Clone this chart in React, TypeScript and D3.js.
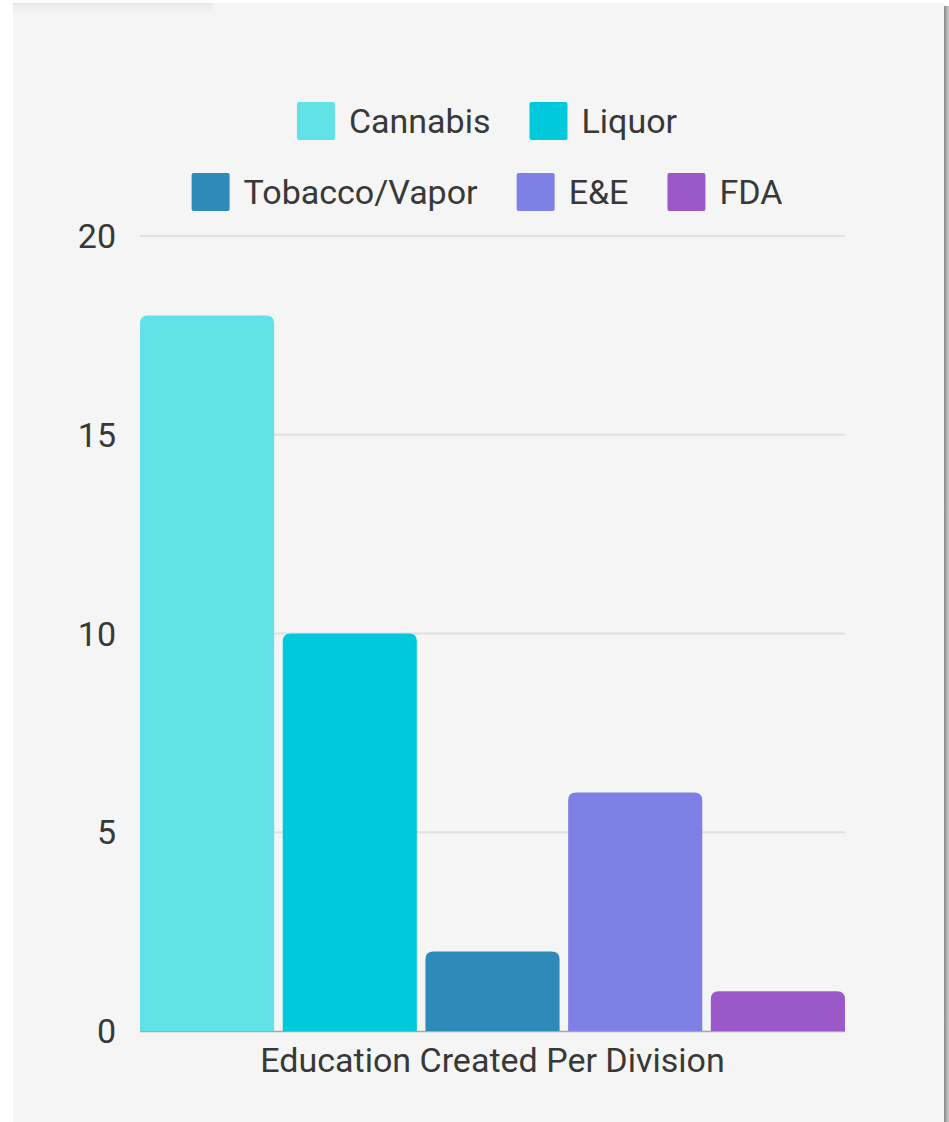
import React, { useMemo } from "react";
import * as d3 from "d3";

const categories = ["Cannabis", "Liquor", "Tobacco/Vapor", "E&E", "FDA"];
const values = [18, 10, 2, 6, 1];
const colors = ["#60e2e6", "#00c9dc", "#2e8bb8", "#7f80e5", "#9b58c9"];
const yTicks = [0, 5, 10, 15, 20];
const axisTitle = "Education Created Per Division";

const W = 949;
const H = 1122;
const FONT = "Roboto, 'Open Sans', sans-serif";
const FS = 34;
const TXT = "#383838";

function measure(text: string, size: number) {
  const c = document.createElement("canvas").getContext("2d")!;
  c.font = `${size}px Roboto`;
  return c.measureText(text).width;
}

export default function App() {
  const x = d3.scaleBand<string>().domain(categories).range([140, 845]).paddingInner(0.06).paddingOuter(0);
  const y = d3.scaleLinear().domain([0, 20]).range([1031, 236]);
  const r = 8;

  const legendRows = useMemo(() => {
    const sw = 38, gapT = 14, gapI = 39, maxW = 620;
    const items = categories.map((c, i) => ({ label: c, color: colors[i], w: sw + gapT + measure(c, FS) }));
    const rows: { label: string; color: string; w: number }[][] = [];
    let cur: typeof items = [];
    let cw = 0;
    items.forEach((it) => {
      const add = cur.length ? gapI + it.w : it.w;
      if (cw + add > maxW && cur.length) {
        rows.push(cur);
        cur = [it];
        cw = it.w;
      } else {
        cur.push(it);
        cw += add;
      }
    });
    if (cur.length) rows.push(cur);
    return rows.map((row) => {
      const total = row.reduce((s, it) => s + it.w, 0) + gapI * (row.length - 1);
      let xx = 487 - total / 2;
      return row.map((it) => {
        const o = { ...it, x: xx };
        xx += it.w + gapI;
        return o;
      });
    });
  }, []);

  const barPath = (x0: number, x1: number, yTop: number, yBot: number) => {
    const rr = Math.min(r, (yBot - yTop) / 2);
    return `M${x0},${yBot} L${x0},${yTop + rr} Q${x0},${yTop} ${x0 + rr},${yTop} L${x1 - rr},${yTop} Q${x1},${yTop} ${x1},${yTop + rr} L${x1},${yBot} Z`;
  };

  return (
    <svg width={W} height={H} style={{ position: "absolute", left: 0, top: 0 }} fontFamily={FONT}>
      <defs>
        <linearGradient id="rshadow" x1="0" x2="1" y1="0" y2="0">
          <stop offset="0" stopColor="#7a7a7a" />
          <stop offset="1" stopColor="#d0d0d0" />
        </linearGradient>
        <linearGradient id="tshadow" x1="0" x2="0" y1="0" y2="1">
          <stop offset="0" stopColor="#e4e4e4" />
          <stop offset="1" stopColor="#f5f5f5" stopOpacity="0" />
        </linearGradient>
      </defs>
      <rect x={0} y={0} width={W} height={H} fill="#ffffff" />
      <rect x={943} y={6} width={6} height={H - 6} fill="url(#rshadow)" />
      <rect x={13} y={3} width={931} height={H - 3} fill="#f5f5f5" />
      <rect x={13} y={3} width={200} height={12} fill="url(#tshadow)" />

      {yTicks.map((t) => (
        <g key={t}>
          {t !== 0 && <line x1={140} x2={845} y1={y(t)} y2={y(t)} stroke="#e0e0e0" strokeWidth={2} />}
          <text x={116} y={y(t)} dy="0.36em" textAnchor="end" fontSize={FS} fill={TXT}>
            {t}
          </text>
        </g>
      ))}
      <line x1={140} x2={845} y1={y(0) + 0.5} y2={y(0) + 0.5} stroke="#a8a8a8" strokeWidth={1.5} />

      {categories.map((c, i) => {
        const x0 = x(c)!;
        return <path key={c} d={barPath(x0, x0 + x.bandwidth(), y(values[i]), y(0))} fill={colors[i]} />;
      })}

      <text x={492.5} y={1072} textAnchor="middle" fontSize={FS} fill={TXT}>
        {axisTitle}
      </text>

      {legendRows.map((row, ri) =>
        row.map((it) => {
          const cy = ri === 0 ? 121 : 192;
          return (
            <g key={it.label}>
              <rect x={it.x} y={cy - 19} width={38} height={38} rx={2} fill={it.color} />
              <text x={it.x + 52} y={cy} dy="0.36em" fontSize={FS} fill={TXT}>
                {it.label}
              </text>
            </g>
          );
        })
      )}
    </svg>
  );
}
